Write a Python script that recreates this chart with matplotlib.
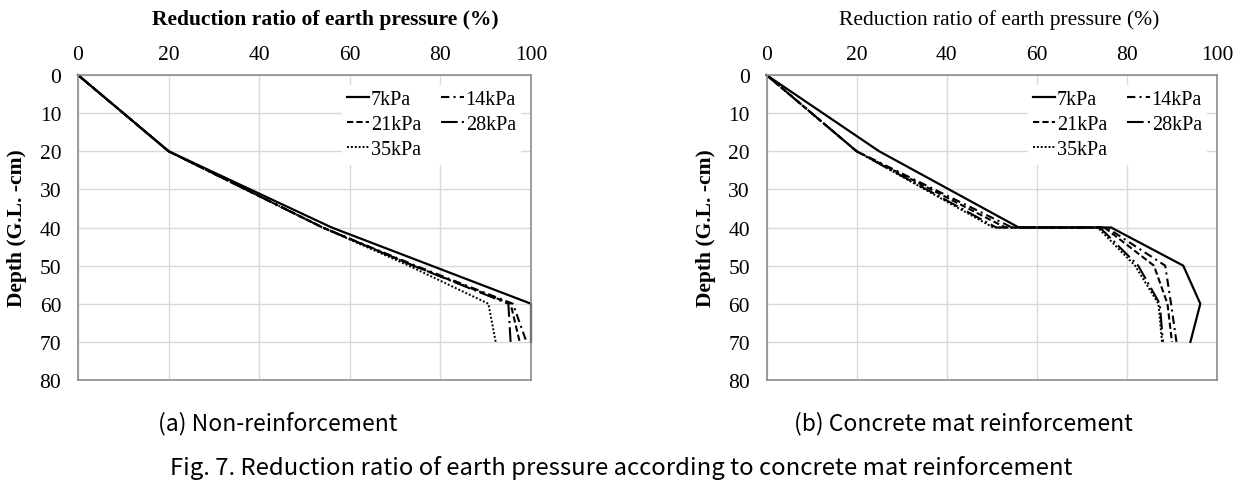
import matplotlib
matplotlib.use('Agg')
import matplotlib.pyplot as plt
from matplotlib.ticker import MultipleLocator

plt.rcParams['font.family'] = ['Liberation Serif', 'DejaVu Serif']

# ---- data ----
labels = ['7kPa', '14kPa', '21kPa', '28kPa', '35kPa']

# (a) non-reinforcement
depth_a = [0, 20, 40, 50, 60, 70]
ratio_a = {
    '7kPa':  [0, 20, 56.0, 78.0, 100.0, 100.0],
    '14kPa': [0, 20, 54.0, 74.5, 96.0, 99.0],
    '21kPa': [0, 20, 54.0, 74.0, 95.5, 97.5],
    '28kPa': [0, 20, 54.0, 74.0, 95.0, 95.5],
    '35kPa': [0, 20, 54.0, 73.0, 90.6, 92.2],
}

# (b) concrete mat reinforcement (mat at 40 cm -> two values at that depth)
depth_b = [0, 20, 40, 40, 50, 60, 70]
ratio_b = {
    '7kPa':  [0, 25, 56.0, 76.5, 92.5, 96.3, 94.1],
    '14kPa': [0, 20, 54.5, 75.5, 88.5, 89.8, 91.0],
    '21kPa': [0, 20, 53.0, 75.0, 86.0, 89.0, 90.0],
    '28kPa': [0, 20, 51.0, 74.0, 82.5, 87.3, 88.0],
    '35kPa': [0, 20, 50.3, 73.5, 81.8, 87.0, 87.8],
}

styles = {
    '7kPa':  dict(linestyle='-', lw=1.6),
    '14kPa': dict(linestyle=(0, (4, 2, 1, 2)), lw=1.5),
    '21kPa': dict(linestyle=(0, (3, 1.5)), lw=1.5),
    '28kPa': dict(linestyle=(0, (8, 2, 1, 2)), lw=1.5),
    '35kPa': dict(linestyle=(0, (1, 1)), lw=1.4),
}

W, H = 1248, 489
fig = plt.figure(figsize=(W / 100, H / 100), dpi=100)


def make_panel(rect, depth, ratios, title, title_x, title_bold):
    ax = fig.add_axes(rect)
    lines = {}
    for lab in labels:
        ln, = ax.plot(ratios[lab], depth, color='black', clip_on=False,
                      label=lab, **styles[lab])
        lines[lab] = ln
    ax.set_xlim(0, 100)
    ax.set_ylim(80, 0)
    ax.xaxis.set_major_locator(MultipleLocator(20))
    ax.yaxis.set_major_locator(MultipleLocator(10))
    ax.xaxis.tick_top()
    ax.tick_params(axis='both', length=0, labelsize=15.5)
    ax.tick_params(axis='x', pad=8)
    ax.tick_params(axis='y', pad=12)
    ax.grid(True, color='#d9d9d9', lw=1)
    ax.set_axisbelow(True)
    for sp in ax.spines.values():
        sp.set_color('#8c8c8c')
        sp.set_linewidth(1.2)
    ax.set_ylabel('Depth (G.L. -cm)', fontsize=15.5, fontweight='bold')
    ax.yaxis.set_label_coords(-0.113, 0.5)
    fig.text(title_x / W, 1 - 20 / H, title, fontsize=15.5,
             fontweight='bold' if title_bold else 'normal',
             ha='center', va='center')
    # row-wise legend order: 7 14 / 21 28 / 35
    order = ['7kPa', '21kPa', '35kPa', '14kPa', '28kPa']
    leg = ax.legend([lines[k] for k in order], order, ncol=2, loc='upper right',
                    bbox_to_anchor=(1.0, 1.0), frameon=True, fontsize=14.5,
                    handlelength=1.1, handletextpad=0.1, columnspacing=1.0,
                    labelspacing=0.3, borderpad=0.25)
    leg.get_frame().set_edgecolor('none')
    leg.get_frame().set_facecolor('white')
    leg.get_frame().set_alpha(1)
    return ax


bottom = 1 - 381 / H
height = 305 / H
make_panel([78 / W, bottom, 453 / W, height], depth_a, ratio_a,
           'Reduction ratio of earth pressure (%)', 325, True)
make_panel([766.5 / W, bottom, 450.5 / W, height], depth_b, ratio_b,
           'Reduction ratio of earth pressure (%)', 999, False)

cap_font = ['Noto Sans CJK KR', 'DejaVu Sans']
fig.text(278 / W, 1 - 424 / H, '(a) Non-reinforcement', fontsize=16.5,
         family=cap_font, ha='center', va='center')
fig.text(963 / W, 1 - 424 / H, '(b) Concrete mat reinforcement', fontsize=16.5,
         family=cap_font, ha='center', va='center')
fig.text(621 / W, 1 - 468 / H,
         'Fig. 7. Reduction ratio of earth pressure according to concrete mat reinforcement',
         fontsize=17.2, family=cap_font, ha='center', va='center')

fig.savefig('out.png', dpi=100)
